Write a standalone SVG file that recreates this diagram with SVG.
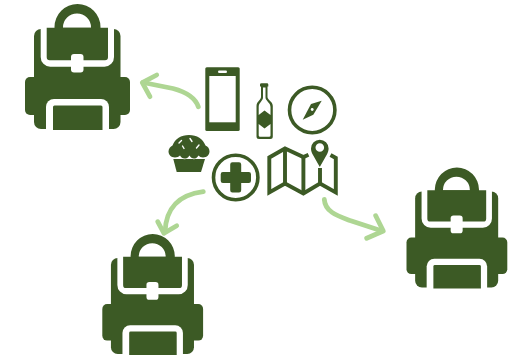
<svg xmlns="http://www.w3.org/2000/svg" width="520" height="355" viewBox="0 0 520 355">
<style>
.g{fill:#3c5a25}
.w{fill:#fff}
.o{fill:none;stroke:#3c5a25;stroke-width:3.9;stroke-linejoin:miter}
.a{fill:none;stroke:#aed693;stroke-width:4.800;stroke-linecap:round;stroke-linejoin:round}
.s{fill:none;stroke:#fff;stroke-width:1.400;stroke-linecap:round}
</style>
<defs>
<symbol id="pack" overflow="visible" viewBox="0 0 520 355" width="520" height="355">
<rect class="g" x="34" y="29" width="86.500" height="100" rx="7"/>
<rect class="g" x="25" y="77" width="105" height="38" rx="5"/>
<path class="w" d="M40.700 27H114V57A9.500 9.500 0 0 1 104.500 66.700H50.200A9.500 9.500 0 0 1 40.700 57Z"/>
<path class="g" d="M46.700 27.700H108V57.300A3 3 0 0 1 105 60.300H49.700A3 3 0 0 1 46.700 57.300Z"/>
<path class="g" fill-rule="evenodd" d="M54.500 30V27A23 23 0 0 1 100.500 27V30ZM63 27.700H91V27.500A14 14 0 0 0 63 27.500Z"/>
<rect class="w" x="71" y="54" width="12.500" height="18.500" rx="3"/>
<path class="w" d="M46 130V107A8 8 0 0 1 54 99H101A8 8 0 0 1 109 107V130Z"/>
<path class="g" d="M53 130V107A1.500 1.500 0 0 1 54.500 105.500H101A1.500 1.500 0 0 1 102.500 107V130Z"/>
</symbol>
</defs>
<g id="connectors">
<path class="a" d="M198.300 106.700C195 97 186 92 173 88.500L143 82.500"/>
<path class="a" d="M156.700 75L142.300 82.700L150 96.700"/>
<path class="a" d="M203.300 191.700C178 195 166 208 165 232"/>
<path class="a" d="M157.700 221.700L164 233.300L176.700 225.700"/>
<path class="a" d="M324.300 199.300C325 212 338 216 350 220.500L382 231"/>
<path class="a" d="M375.700 215.700L383.300 231L366.700 238.300"/>
</g>
<g id="backpack-1"><use href="#pack"/></g>
<g id="backpack-2"><use href="#pack" transform="translate(78.300 230.200) scale(.96)"/></g>
<g id="backpack-3"><use href="#pack" transform="translate(382.500 163.700) scale(.96)"/></g>
<g id="phone">
<rect class="g" x="205.300" y="67.300" width="34.400" height="63.700" rx="1.500"/>
<rect class="w" x="209.300" y="76" width="26.400" height="46.300"/>
<rect class="w" x="218" y="70.500" width="9" height="2.600" rx="1.300"/>
</g>
<g id="bottle">
<path class="g" d="M260 84.500Q260 83.300 261.500 83.300H267Q268.300 83.300 268.300 84.500V86.500H267.500V97C267.500 100 272.800 101.500 272.800 106V136.500Q272.800 139 270.300 139H259Q256.500 139 256.500 136.500V106C256.500 101.500 261 100 261 97V86.500H260Z"/>
<path class="w" d="M263 87.500H265.500V97.500C265.500 101 270.500 102.500 270.500 107V115L264.500 110.500L258.700 115V107C258.700 102.500 263 101 263 97.500Z"/>
<path class="w" d="M258.700 124L264.500 128.500L270.500 124V135.500Q270.500 136.800 269 136.800H260.200Q258.700 136.800 258.700 135.500Z"/>
</g>
<g id="compass">
<circle cx="312.200" cy="110" r="22.700" fill="none" stroke="#3c5a25" stroke-width="3.600"/>
<path class="g" d="M321.700 100.700L313.300 114.700L302.700 119.700L311 104Z"/>
<circle class="w" cx="312.200" cy="109.500" r="1.400"/>
</g>
<g id="cupcake">
<path class="g" d="M173.300 159H205L201 172H176.700Z"/>
<path class="g" stroke="#fff" stroke-width="1.400" paint-order="stroke" d="M175 157.500C171 157.500 168.500 154.500 168.500 151.500C168.500 148.500 170.500 146.500 172.500 145.500C175 139 181 135 189 135C197 135 203 139 205.500 145.500C208 146.500 209.500 148.500 209.500 151.500C209.500 154.500 207 157.500 203 157.500C201 157.500 199.500 156.500 198.500 155.500C197 158 195.500 158.500 194 158.500C192 158.500 190.500 157.500 189.500 155.500C188 158 186.500 158.500 184.500 158.500C182.500 158.500 181 157.500 180 155.500C179 156.800 177 157.500 175 157.500Z"/>
<path class="s" d="M190 138.500L192 141.500M182.500 146L184 148.500M199 145L196.500 148M179 143L181.500 140.500"/>
</g>
<g id="first-aid">
<circle cx="235.700" cy="177.500" r="22.200" fill="none" stroke="#3c5a25" stroke-width="3.600"/>
<path class="g" d="M230.200 164.500Q230.200 162.300 232.400 162.300H239Q241.200 162.300 241.200 164.500V172H248.800Q251 172 251 174.200V180.800Q251 183 248.800 183H241.200V190.300Q241.200 192.500 239 192.500H232.400Q230.200 192.500 230.200 190.300V183H222.900Q220.700 183 220.700 180.800V174.200Q220.700 172 222.900 172H230.200Z"/>
</g>
<g id="map">
<path class="o" d="M308.500 154.800L303.400 157L285 148.500L269.300 157.500V192.500L285 183.500L303.400 193.500L320 183.500L335.800 192.500V158L330.500 155"/>
<path class="o" d="M285 148.500V183.500M303.400 157V193.500M320 168V183.500"/>
<path class="g" fill-rule="evenodd" d="M319.800 167L313 155C311.500 152.500 311 150.500 311 148.500A8.800 8.800 0 0 1 328.600 148.500C328.600 150.500 328 152.500 326.600 155ZM319.800 143.200A4.300 4.300 0 1 0 319.800 151.800A4.300 4.300 0 1 0 319.800 143.200Z"/>
</g>
</svg>
